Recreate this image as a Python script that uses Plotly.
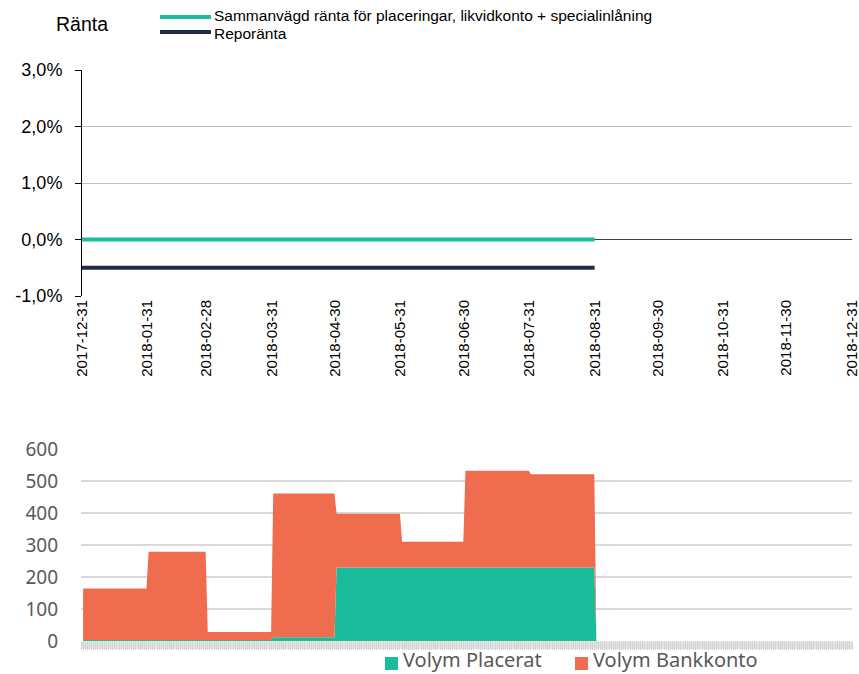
import plotly.graph_objects as go

# ---- Top chart data ----
rate_dates = ["2017-12-31", "2018-08-31"]
rate_sammanvagd = [0.0, 0.0]
rate_repo = [-0.5, -0.5]
tick_dates = ["2017-12-31", "2018-01-31", "2018-02-28", "2018-03-31", "2018-04-30",
              "2018-05-31", "2018-06-30", "2018-07-31", "2018-08-31", "2018-09-30",
              "2018-10-31", "2018-11-30", "2018-12-31"]
rate_names = ["Sammanvägd ränta för placeringar, likvidkonto + specialinlåning", "Reporänta"]

# ---- Bottom chart data (monthly volumes) ----
month_start = ["2018-01-01", "2018-02-01", "2018-03-01", "2018-04-01",
               "2018-05-01", "2018-06-01", "2018-07-01", "2018-08-01"]
month_end = ["2018-01-31", "2018-02-28", "2018-03-31", "2018-04-30",
             "2018-05-31", "2018-06-30", "2018-07-31", "2018-08-31"]
vol_placerat = [3, 3, 3, 12, 230, 230, 230, 230]
vol_bankkonto = [161, 276, 25, 449, 168, 80, 302, 291]
vol_names = ["Volym Placerat", "Volym Bankkonto"]

GREEN = "#1ABC9C"
NAVY = "#222B45"
ORANGE = "#F06C4E"
GRAY_TXT = "#595959"

xs, yp, yb = [], [], []
for s, e, p, b in zip(month_start, month_end, vol_placerat, vol_bankkonto):
    xs += [s, e]
    yp += [p, p]
    yb += [b, b]
xs += ["2018-09-01"]
yp += [0]
yb += [0]

fig = go.Figure()

fig.add_trace(go.Scatter(x=rate_dates, y=rate_sammanvagd, mode="lines",
                         line=dict(color=GREEN, width=4), name=rate_names[0],
                         xaxis="x", yaxis="y", showlegend=False))
fig.add_trace(go.Scatter(x=rate_dates, y=rate_repo, mode="lines",
                         line=dict(color=NAVY, width=4), name=rate_names[1],
                         xaxis="x", yaxis="y", showlegend=False))

fig.add_trace(go.Scatter(x=xs, y=yp, mode="lines", stackgroup="v",
                         line=dict(color=GREEN, width=0), fillcolor=GREEN,
                         name=vol_names[0], xaxis="x2", yaxis="y2", showlegend=False))
fig.add_trace(go.Scatter(x=xs, y=yb, mode="lines", stackgroup="v",
                         line=dict(color=ORANGE, width=0), fillcolor=ORANGE,
                         name=vol_names[1], xaxis="x2", yaxis="y2", showlegend=False))

W, H = 859, 674
x0, x1 = 82 / W, 852 / W

def px(x):
    return x / W

def py(y):
    return 1 - y / H

shapes = []
annotations = []

# light band behind the dense daily ticks of the lower chart
shapes.append(dict(type="rect", xref="paper", yref="paper", layer="below",
                   x0=px(81), x1=px(852), y0=py(649), y1=py(641),
                   fillcolor="#E4E4E4", line=dict(width=0)))

# Top legend (manual, to match the reference's long line samples)
for i, (nm, col) in enumerate(zip(rate_names, [GREEN, NAVY])):
    yy = 17 + 15 * i
    ty = [15, 33.5][i]
    shapes.append(dict(type="line", xref="paper", yref="paper",
                       x0=px(160), x1=px(211), y0=py(yy), y1=py(yy),
                       line=dict(color=col, width=4)))
    annotations.append(dict(text=nm, x=px(213), y=py(ty), xref="paper", yref="paper",
                            xanchor="left", yanchor="middle", showarrow=False,
                            borderpad=0,
                            font=dict(size=15.5, color="black")))

# Bottom legend (square swatches)
for xs0, nm, col in zip([385, 575], vol_names, [GREEN, ORANGE]):
    shapes.append(dict(type="rect", xref="paper", yref="paper",
                       x0=px(xs0), x1=px(xs0 + 13), y0=py(670), y1=py(657),
                       fillcolor=col, line=dict(width=0)))
    annotations.append(dict(text=nm, x=px(xs0 + 17), y=py(674), xref="paper", yref="paper",
                            xanchor="left", yanchor="bottom", showarrow=False,
                            borderpad=0,
                            font=dict(family="Noto Sans, Open Sans", size=20, color=GRAY_TXT)))

annotations.append(dict(text="Ränta", x=px(54), y=py(24), xref="paper", yref="paper",
                        xanchor="left", yanchor="middle", showarrow=False,
                        font=dict(size=19.5, color="black")))

fig.update_layout(
    width=W, height=H,
    margin=dict(l=0, r=0, t=0, b=0, autoexpand=False),
    paper_bgcolor="white", plot_bgcolor="white",
    font=dict(family="Liberation Sans, Arial", color="black"),
    showlegend=False,
    xaxis=dict(domain=[x0, x1], anchor="y", type="date", automargin=False,
               range=["2017-12-31", "2018-12-31"],
               tickmode="array", tickvals=tick_dates, ticktext=tick_dates,
               tickangle=-90, tickfont=dict(size=15, color="black"),
               ticklabeloverflow="allow",
               showgrid=False, showline=False, ticks="", zeroline=False),
    yaxis=dict(domain=[py(296), py(70)], anchor="x", automargin=False,
               range=[-1.0, 3.0], tickvals=[-1, 0, 1, 2, 3],
               ticktext=["-1,0%", "0,0%", "1,0%", "2,0%", "3,0%"],
               tickfont=dict(size=18, color="black"),
               showgrid=True, gridcolor="#BFBFBF", gridwidth=1,
               zeroline=True, zerolinecolor="#404040", zerolinewidth=1,
               showline=True, linecolor="black", linewidth=1,
               ticks="outside", ticklen=6, tickcolor="black", ticklabelstandoff=9),
    xaxis2=dict(domain=[x0 - 1 / W, x1], anchor="y2", type="date", automargin=False,
                range=["2017-12-31", "2018-12-31"],
                showticklabels=False, showgrid=False, zeroline=False,
                showline=False, ticks="outside", tickmode="linear",
                tick0="2017-12-31", dtick=86400000, ticklen=8,
                tickcolor="#D2D2D2", tickwidth=1),
    yaxis2=dict(domain=[py(641), py(449)], anchor="x2", automargin=False,
                range=[0, 600], dtick=100,
                tickfont=dict(family="Noto Sans, Open Sans", size=19, color=GRAY_TXT),
                showgrid=True, gridcolor="#D9D9D9", gridwidth=2,
                zeroline=False, showline=False, ticks="", ticklabelstandoff=22),
    shapes=shapes,
    annotations=annotations,
)

fig.write_html("out.html", config={"displayModeBar": False},
               post_script="document.body.style.margin='0';document.body.style.padding='0';")
